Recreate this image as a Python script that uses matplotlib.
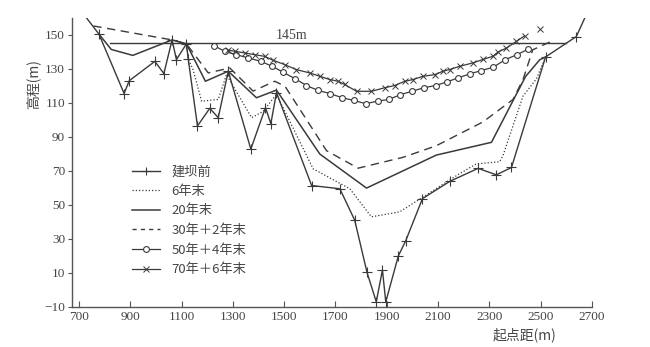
import matplotlib
matplotlib.use("Agg")
import matplotlib.pyplot as plt
from matplotlib.lines import Line2D

CJK = ["Noto Sans CJK SC", "DejaVu Sans"]
SERIF = ["Liberation Serif", "DejaVu Serif"]
INK = "#3a3a3a"
TXT = "#454545"

# 建坝前 (pre-dam bed profile)
pre_x = [719, 778, 876, 896, 996, 1031, 1063, 1080, 1119, 1126, 1162, 1210, 1243, 1282,
         1370, 1427, 1448, 1470, 1607, 1717, 1775, 1823, 1859, 1883, 1896, 1945, 1974,
         2039, 2145, 2256, 2327, 2386, 2519, 2639, 2678]
pre_z = [162, 150.4, 115.5, 123, 134.4, 127.2, 147, 135.4, 144.7, 135.8, 96.4, 106.8, 101.3,
         128.6, 82.8, 107.2, 97.8, 116, 61.4, 59.5, 41, 10.3, -7, 11.8, -7, 20, 29,
         53.7, 63.8, 71.5, 67.7, 72, 137, 149, 162]

# 6年末
six_x = [1119, 1126, 1145, 1178, 1243, 1275, 1373, 1418, 1470, 1613, 1756, 1840, 1950,
         2041, 2184, 2249, 2340, 2353, 2431, 2483, 2519]
six_z = [144.7, 135.8, 129.5, 111, 112, 126.6, 101.3, 105, 115, 71.2, 59.5, 43, 45.9,
         54.6, 68.4, 74.1, 75.4, 79, 114, 124, 137]

# 20年末
twenty_x = [778, 826, 910, 1063, 1119, 1193, 1282, 1392, 1470, 1639, 1821, 2093, 2308,
            2441, 2496, 2519]
twenty_z = [150.4, 141.4, 137.9, 147, 144.7, 122.7, 128.6, 113, 117.5, 79.9, 59.9, 79.3,
            86.8, 125.5, 135.3, 137]

# 30年+2年末
thirty_x = [756, 1063, 1119, 1204, 1288, 1379, 1463, 1503, 1665, 1788, 1964, 2093, 2275,
            2392, 2431, 2469, 2554]
thirty_z = [155.2, 147, 144.7, 127.6, 130.5, 116.9, 122.7, 119.8, 81.9, 71.6, 78, 84.8,
            98.8, 112, 123.7, 141.2, 147]

# 50年+4年末
fifty_x = [1227, 1269, 1314, 1360, 1409, 1453, 1496, 1541, 1587, 1632, 1678, 1726, 1772,
           1818, 1864, 1908, 1953, 2000, 2045, 2091, 2136, 2178, 2223, 2269, 2314, 2362,
           2407, 2452]
fifty_z = [143.6, 140.2, 138.3, 136.4, 134.4, 131.5, 128, 124.3, 120.2, 117.3, 115.5, 113,
           111.4, 109.5, 111, 112, 114.8, 116.9, 118.9, 120.2, 122.4, 124.7, 127, 129,
           130.9, 135.4, 138.3, 141.6]

# 70年+6年末
seventy_x = [1280, 1310, 1347, 1386, 1425, 1457, 1502, 1548, 1600, 1639, 1678, 1710, 1736,
             1782, 1840, 1892, 1931, 1970, 2002, 2041, 2087, 2119, 2145, 2184, 2236, 2275,
             2314, 2333, 2366, 2405, 2437]
seventy_z = [141, 140.3, 139.3, 138.3, 137.3, 135, 132.5, 129.5, 127.6, 125.6, 123.7, 122.7,
             120.8, 116.8, 116.8, 118.9, 120.2, 122.7, 123.7, 125.6, 126.6, 128.6, 129.6,
             131.5, 133.5, 135.5, 137.4, 139.8, 142.2, 146.1, 149.4]
seventy_extra = (2496, 153.5)

water_x = [822, 2600]
water_level = 145

fig = plt.figure(figsize=(6.5, 3.47), dpi=100)
ax = fig.add_axes([0.1108, 0.1153, 0.80, 0.8334])

ax.plot(water_x, [water_level, water_level], color=INK, lw=1.0)
ax.text(1530, water_level + 1.0, f"{water_level}m", fontsize=10, family=SERIF,
        color=TXT, ha="center", va="bottom")

ax.plot(pre_x, pre_z, color=INK, lw=1.0)
ax.plot(pre_x[1:-1], pre_z[1:-1], ls="none", marker="+", ms=6.5, mew=0.8, color=INK)
ax.plot(six_x, six_z, color=INK, lw=0.9, ls=(0, (1, 1.6)))
ax.plot(twenty_x, twenty_z, color=INK, lw=1.1)
ax.plot(thirty_x, thirty_z, color=INK, lw=1.0, ls=(0, (6, 4)))
ax.plot(fifty_x, fifty_z, color=INK, lw=0.9, marker="o", ms=4.2, mfc="white", mew=0.8)
ax.plot(seventy_x, seventy_z, color=INK, lw=0.9, marker="x", ms=4, mew=0.7)
ax.plot([seventy_extra[0]], [seventy_extra[1]], ls="none", marker="x", ms=4, mew=0.7,
        color=INK)

handles = [
    Line2D([], [], color=INK, lw=1.0, marker="+", ms=6, mew=0.8),
    Line2D([], [], color=INK, lw=0.9, ls=(0, (1, 1.6))),
    Line2D([], [], color=INK, lw=1.1),
    Line2D([], [], color=INK, lw=1.0, ls=(0, (3, 3))),
    Line2D([], [], color=INK, lw=0.9, marker="o", ms=4.2, mfc="white", mew=0.8),
    Line2D([], [], color=INK, lw=0.9, marker="x", ms=4, mew=0.7),
]
labels = ["建坝前", "6年末", "20年末", "30年＋2年末", "50年＋4年末", "70年＋6年末"]
leg = ax.legend(handles, labels, loc="upper left", bbox_to_anchor=(0.185, 0.558),
                bbox_transform=fig.transFigure, frameon=False,
                handlelength=2.1, handletextpad=0.9, labelspacing=0.5,
                prop={"family": CJK, "size": 9.5})
for t in leg.get_texts():
    t.set_color(TXT)

ax.set_xlim(673, 2700)
ax.set_ylim(-10, 160)
ax.set_xticks(range(700, 2701, 200))
ax.set_yticks(range(-10, 151, 20))
ax.set_yticklabels([f"{v}" if v >= 0 else f"\u2212{-v}" for v in range(-10, 151, 20)])
ax.tick_params(axis="x", direction="in", length=4, width=0.8, colors="#555555",
               labelcolor=TXT, labelsize=9.5, pad=3)
ax.tick_params(axis="y", direction="out", length=3, width=0.8, colors="#555555",
               labelcolor=TXT, labelsize=9.5, pad=2)
for lab in ax.get_xticklabels() + ax.get_yticklabels():
    lab.set_family(SERIF)

for side in ("top", "right"):
    ax.spines[side].set_visible(False)
for side in ("left", "bottom"):
    ax.spines[side].set_color("#555555")
    ax.spines[side].set_linewidth(1.0)

ax.set_xlabel("起点距(m)", family=CJK, fontsize=10, color=TXT)
ax.xaxis.set_label_coords(0.871, -0.07)
ax.set_ylabel("高程(m)", family=CJK, fontsize=10, color=TXT)
ax.yaxis.set_label_coords(-0.058, 0.77)

fig.savefig("out.png", dpi=100)
